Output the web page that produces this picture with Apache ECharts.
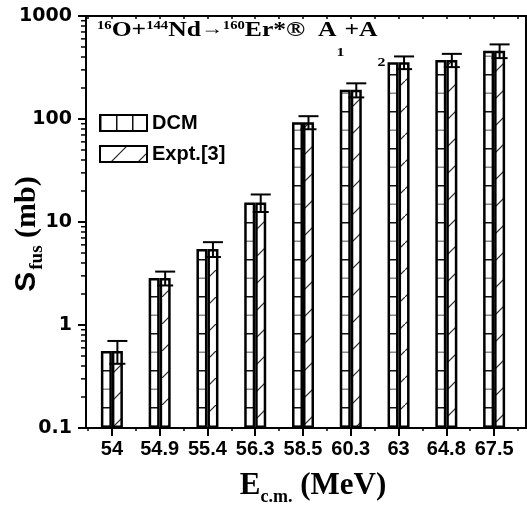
<!DOCTYPE html>
<html><head><meta charset="utf-8">
<script src="https://cdn.jsdelivr.net/npm/echarts@6/dist/echarts.min.js"></script>
<style>html,body{margin:0;padding:0;background:#fff}#c{width:527px;height:506px}</style>
</head><body><div id="c"></div>
<script>
const categories = ['54', '54.9', '55.4', '56.3', '58.5', '60.3', '63', '64.8', '67.5'];
const dcmValues = [0.56, 2.86, 5.47, 15.5, 93, 192, 355, 374, 460];
const exptValues = [0.56, 2.86, 5.47, 15.5, 93, 192, 355, 374, 460];
const exptErrors = [0.14, 0.44, 0.9, 3.0, 13.5, 30, 50, 55, 70];
const yMin = 0.1, yMax = 1000;
const minorTickValues = [0.2,0.3,0.4,0.5,0.6,0.7,0.8,0.9, 2,3,4,5,6,7,8,9, 20,30,40,50,60,70,80,90, 200,300,400,500,600,700,800,900];

function makePattern(w, h, draw) {
  const c = document.createElement('canvas');
  c.width = w; c.height = h;
  const ctx = c.getContext('2d');
  ctx.fillStyle = '#fff'; ctx.fillRect(0, 0, w, h);
  draw(ctx);
  return { image: c, repeat: 'repeat' };
}
const hPattern = makePattern(4, 37, ctx => {
  ctx.fillStyle = '#111'; ctx.fillRect(0, 0, 4, 1.5);
  ctx.fillStyle = '#888'; ctx.fillRect(0, 18.5, 4, 1.5);
});
const vPattern = makePattern(16, 4, ctx => {
  ctx.fillStyle = '#111'; ctx.fillRect(0, 0, 1.5, 4);
});
const dPattern = makePattern(27, 27, ctx => {
  ctx.strokeStyle = '#222'; ctx.lineWidth = 1.2;
  ctx.beginPath(); ctx.moveTo(-2, 29); ctx.lineTo(29, -2); ctx.stroke();
});

const serif = 'Liberation Serif';
const sans = 'Liberation Sans';

const chart = echarts.init(document.getElementById('c'), null, { renderer: 'canvas' });
chart.setOption({
  animation: false,
  backgroundColor: '#fff',
  graphic: [{
    type: 'text', x: 97, y: 20, scaleX: 1.22, z: 10,
    style: {
      text: '{sup|16}{b|O+}{sup|144}{b|Nd}{arr|→}{sup|160}{b|Er*®  A}{sub1|1}{b|+A}{sub2|2}',
      verticalAlign: 'top', align: 'left',
      rich: {
        b: { fontFamily: serif, fontWeight: 'bold', fontSize: 21, lineHeight: 24, verticalAlign: 'top', fill: '#000' },
        sup: { fontFamily: serif, fontWeight: 'bold', fontSize: 12, lineHeight: 12, verticalAlign: 'top', fill: '#000' },
        arr: { fontFamily: serif, fontSize: 18, lineHeight: 24, verticalAlign: 'top', fill: '#000' },
        sub1: { fontFamily: serif, fontWeight: 'bold', fontSize: 13, lineHeight: 12, padding: [26, 0, 0, 0], verticalAlign: 'top', fill: '#000' },
        sub2: { fontFamily: serif, fontWeight: 'bold', fontSize: 13, lineHeight: 12, padding: [36, 0, 0, 0], verticalAlign: 'top', fill: '#000' }
      }
    }
  }],
  legend: {
    orient: 'vertical', left: 99, top: 113, padding: 0,
    itemWidth: 47, itemHeight: 16, itemGap: 11,
    icon: 'rect',
    textStyle: { fontFamily: sans, fontWeight: 'bold', fontSize: 20, color: '#000' },
    data: [{ name: 'DCM', itemStyle: { color: vPattern } }, { name: 'Expt.[3]' }]
  },
  grid: [
    { left: 88, top: 16, width: 430, height: 412, outerBoundsMode: 'none', containLabel: false },
    { left: 86, top: 16, width: 440, height: 412, outerBoundsMode: 'none', containLabel: false,
      show: true, borderColor: '#000', borderWidth: 2, backgroundColor: 'transparent' }
  ],
  xAxis: [
    { type: 'category', gridIndex: 0, data: categories, position: 'bottom',
      axisLine: { show: false },
      axisTick: { show: true, alignWithLabel: true, length: 8, lineStyle: { color: '#000', width: 2 } },
      axisLabel: { interval: 0, hideOverlap: false, fontFamily: sans, fontWeight: 'bold', fontSize: 20, color: '#000', margin: 11 } },
    { type: 'category', gridIndex: 0, data: categories, position: 'bottom',
      axisLine: { show: false },
      axisTick: { show: true, interval: 0, length: 3, lineStyle: { color: '#000', width: 1.5 } },
      axisLabel: { show: false } },
    { type: 'category', gridIndex: 0, data: categories, position: 'top',
      axisLine: { show: false },
      axisTick: { show: true, inside: true, interval: 0, alignWithLabel: true, length: 3, lineStyle: { color: '#000', width: 1.5 } },
      axisLabel: { show: false } },
    { type: 'category', gridIndex: 0, data: categories, position: 'top',
      axisLine: { show: false },
      axisTick: { show: true, inside: true, interval: 0, length: 3, lineStyle: { color: '#000', width: 1.5 } },
      axisLabel: { show: false } },
    { type: 'value', gridIndex: 1, min: 0, max: 1, position: 'bottom',
      axisLine: { show: true, lineStyle: { color: '#000', width: 2 } },
      axisTick: { show: false }, axisLabel: { show: false }, splitLine: { show: false },
      name: '{e|E}{s|c.m.}{r| (MeV)}', nameLocation: 'middle', nameGap: 42, nameMoveOverlap: false,
      nameTextStyle: {
        padding: [0, 0, 0, 14],
        rich: {
          e: { fontFamily: serif, fontWeight: 'bold', fontSize: 31, lineHeight: 32, verticalAlign: 'top', color: '#000' },
          s: { fontFamily: serif, fontWeight: 'bold', fontSize: 18, lineHeight: 16, padding: [18, 0, 0, 0], verticalAlign: 'top', color: '#000' },
          r: { fontFamily: serif, fontWeight: 'bold', fontSize: 31, lineHeight: 32, verticalAlign: 'top', color: '#000' }
        }
      } }
  ],
  yAxis: [
    { type: 'log', gridIndex: 0, min: yMin, max: yMax, startValue: yMin, show: false },
    { type: 'log', gridIndex: 1, min: yMin, max: yMax,
      axisLine: { show: true, lineStyle: { color: '#000', width: 2 } },
      axisTick: { show: true, length: 8, lineStyle: { color: '#000', width: 2 } },
      axisLabel: { fontFamily: 'DejaVu Sans', fontWeight: 'bold', fontSize: 19, color: '#000', margin: 14,
        formatter: v => String(v) },
      splitLine: { show: false },
      name: '{s|S}{f|fus}{m| (mb)}', nameLocation: 'middle', nameGap: 40, nameMoveOverlap: false,
      nameTextStyle: {
        padding: [0, 24, 0, 0],
        rich: {
          s: { fontFamily: sans, fontWeight: 'bold', fontSize: 30, lineHeight: 34, verticalAlign: 'top', color: '#000' },
          f: { fontFamily: serif, fontWeight: 'bold', fontSize: 19, lineHeight: 18, padding: [16, 0, 0, 2], verticalAlign: 'top', color: '#000' },
          m: { fontFamily: serif, fontWeight: 'bold', fontSize: 30, lineHeight: 34, verticalAlign: 'top', color: '#000' }
        }
      } }
  ],
  series: [
    { name: 'DCM', type: 'bar', xAxisIndex: 0, yAxisIndex: 0, data: dcmValues,
      barWidth: 11, barGap: '0%',
      itemStyle: { color: hPattern, borderColor: '#000', borderWidth: 2.5 } },
    { name: 'Expt.[3]', type: 'bar', xAxisIndex: 0, yAxisIndex: 0, data: exptValues,
      barWidth: 11, barGap: '0%',
      itemStyle: { color: dPattern, borderColor: '#000', borderWidth: 2.5 } },
    { name: 'err', type: 'custom', xAxisIndex: 0, yAxisIndex: 0, z: 5,
      data: exptValues.map((v, i) => [i, v - exptErrors[i], v + exptErrors[i]]),
      encode: { x: 0, y: [1, 2] },
      renderItem: (params, api) => {
        const i = api.value(0);
        const hi = api.coord([i, api.value(2)]);
        const lo = api.coord([i, api.value(1)]);
        const x = hi[0] + 5.5;
        const st = { stroke: '#000', lineWidth: 2 };
        return { type: 'group', children: [
          { type: 'line', shape: { x1: x, y1: hi[1], x2: x, y2: lo[1] }, style: st },
          { type: 'line', shape: { x1: x - 10, y1: hi[1], x2: x + 10, y2: hi[1] }, style: st },
          { type: 'line', shape: { x1: x - 8, y1: lo[1], x2: x + 8, y2: lo[1] }, style: st }
        ] };
      } },
    { name: 'minorTicks', type: 'custom', xAxisIndex: 4, yAxisIndex: 1, z: 5, silent: true,
      data: minorTickValues.map(v => [0, v]),
      encode: { x: 0, y: 1 },
      renderItem: (params, api) => {
        const p = api.coord([0, api.value(1)]);
        return { type: 'line', shape: { x1: p[0] - 5, y1: p[1], x2: p[0], y2: p[1] }, style: { stroke: '#000', lineWidth: 1.5 } };
      } }
  ]
});
</script></body></html>
